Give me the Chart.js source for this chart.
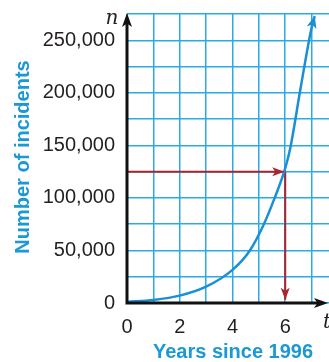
<!DOCTYPE html>
<html>
<head>
<meta charset="utf-8">
<script src="https://cdn.jsdelivr.net/npm/chart.js@4.4.0/dist/chart.umd.min.js"></script>
<style>
  html, body { margin: 0; padding: 0; background: #fff; }
  canvas { display: block; }
</style>
</head>
<body>
<canvas id="chart" width="329" height="362"></canvas>
<script>
// curve: years since 1996 vs number of incidents
const years = [0, 1, 2, 3, 4, 4.66, 5.19, 5.6, 5.96, 6.18, 6.6, 7, 7.12];
const incidents = [1000, 2900, 7000, 15500, 31500, 50000, 75000, 100000, 125000, 146000, 207000, 262000, 273000];

// red read-out: across at 125,000 to t = 6, then down to the axis
const readYears = [0, 6, 6];
const readIncidents = [125000, 125000, 3000];

const xLabels = [0, 2, 4, 6];
const yLabels = [0, 50000, 100000, 150000, 200000, 250000];

const gridBlue = '#2aabe2';
const curveBlue = '#1a8fd3';
const titleBlue = '#1b98d6';
const readRed = '#a8262c';
const tickFont = "'Liberation Sans', Arial, sans-serif";

function arrowHead(ctx, x, y, angle, len, half, color) {
    ctx.save();
    ctx.translate(x, y);
    ctx.rotate(angle);
    ctx.beginPath();
    ctx.moveTo(0, 0);
    ctx.lineTo(-len, -half);
    ctx.lineTo(-len * 0.75, 0);
    ctx.lineTo(-len, half);
    ctx.closePath();
    ctx.fillStyle = color;
    ctx.fill();
    ctx.restore();
}

const extras = {
    id: 'extras',
    afterDatasetsDraw(chart) {
        const ctx = chart.ctx;
        const xs = chart.scales.x;
        const ys = chart.scales.y;
        const area = chart.chartArea;
        const x0 = xs.getPixelForValue(0);
        const y0 = ys.getPixelForValue(0);

        // red arrow heads
        const cx = xs.getPixelForValue(readYears[1]);
        const cy = ys.getPixelForValue(readIncidents[1]);
        arrowHead(ctx, cx - 1, cy, 0, 12, 4.5, readRed);
        arrowHead(ctx, cx, ys.getPixelForValue(readIncidents[2]), Math.PI / 2, 12, 4.5, readRed);

        // curve arrow head
        const n = years.length;
        const px = xs.getPixelForValue(years[n - 1]);
        const py = ys.getPixelForValue(incidents[n - 1]);
        const qx = xs.getPixelForValue(years[n - 2]);
        const qy = ys.getPixelForValue(incidents[n - 2]);
        arrowHead(ctx, px, py, Math.atan2(py - qy, px - qx), 12, 5, curveBlue);

        // axes
        ctx.save();
        ctx.strokeStyle = '#111';
        ctx.lineWidth = 3;
        ctx.beginPath();
        ctx.moveTo(x0, y0 + 1.5);
        ctx.lineTo(x0, area.top + 6);
        ctx.moveTo(x0 - 1.5, y0);
        ctx.lineTo(area.right - 6, y0);
        ctx.stroke();
        ctx.restore();
        arrowHead(ctx, x0, area.top - 1, -Math.PI / 2, 14, 5, '#111');
        arrowHead(ctx, area.right - 1, y0, 0, 14, 5, '#111');

        // variable names
        ctx.save();
        ctx.fillStyle = '#222';
        ctx.font = "italic 20px 'DejaVu Serif', 'Liberation Serif', serif";
        ctx.textAlign = 'center';
        ctx.textBaseline = 'alphabetic';
        ctx.fillText('n', 112, 24);
        ctx.fillText('t', 327, 328);
        ctx.restore();

        // axis titles
        ctx.save();
        ctx.fillStyle = titleBlue;
        ctx.font = "bold 20px 'Liberation Sans', Arial, sans-serif";
        ctx.textAlign = 'center';
        ctx.textBaseline = 'middle';
        ctx.fillText('Years since 1996', 233, 352);
        ctx.translate(23, 157);
        ctx.rotate(-Math.PI / 2);
        ctx.fillText('Number of incidents', 0, 0);
        ctx.restore();
    }
};

new Chart(document.getElementById('chart'), {
    type: 'line',
    data: {
        datasets: [
            {
                data: years.map((t, i) => ({ x: t, y: incidents[i] })),
                borderColor: curveBlue,
                borderWidth: 2.5,
                pointRadius: 0,
                cubicInterpolationMode: 'monotone',
                fill: false
            },
            {
                data: readYears.map((t, i) => ({ x: t, y: readIncidents[i] })),
                borderColor: readRed,
                borderWidth: 2,
                pointRadius: 0,
                tension: 0,
                fill: false
            }
        ]
    },
    options: {
        responsive: false,
        animation: false,
        layout: { padding: { top: 14, right: 0, left: 0, bottom: 0 } },
        plugins: {
            legend: { display: false },
            tooltip: { enabled: false }
        },
        scales: {
            x: {
                type: 'linear',
                min: 0,
                max: 7.66,
                grid: { color: gridBlue, lineWidth: 1.5, drawTicks: false },
                border: { display: false },
                ticks: {
                    stepSize: 1,
                    includeBounds: false,
                    padding: 12,
                    maxRotation: 0,
                    autoSkip: false,
                    color: '#231f20',
                    font: { family: tickFont, size: 20 },
                    callback: v => xLabels.includes(v) ? String(v) : ''
                },
                afterFit(scale) {
                    scale.height = 59;
                    scale.paddingLeft = 0;
                    scale.paddingRight = 0;
                }
            },
            y: {
                min: 0,
                max: 275000,
                grid: { color: gridBlue, lineWidth: 1.5, drawTicks: false },
                border: { display: false },
                ticks: {
                    stepSize: 25000,
                    padding: 12,
                    autoSkip: false,
                    color: '#231f20',
                    font: { family: tickFont, size: 20 },
                    callback: v => yLabels.includes(v) ? v.toLocaleString('en-US') : ''
                },
                afterFit(scale) {
                    scale.width = 127;
                    scale.paddingTop = 0;
                    scale.paddingBottom = 0;
                }
            }
        }
    },
    plugins: [extras]
});
</script>
</body>
</html>
